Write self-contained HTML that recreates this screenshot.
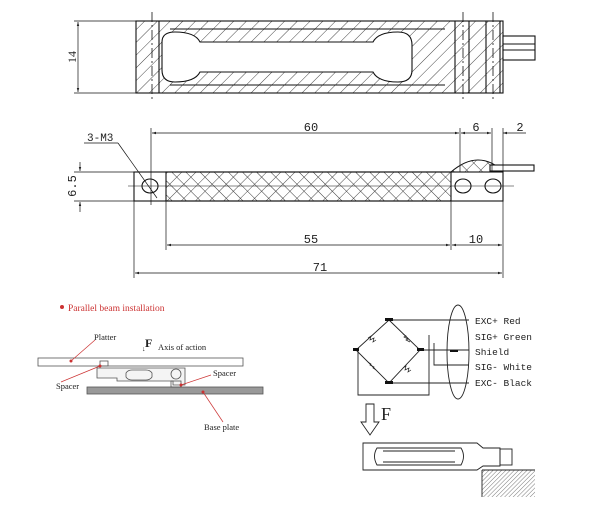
<!DOCTYPE html>
<html><head><meta charset="utf-8"><style>
html,body{margin:0;padding:0;background:#fff}
svg{display:block}
text{font-family:"Liberation Mono",monospace;fill:#222}
.s{font-family:"Liberation Serif",serif}
</style></head><body>
<svg width="600" height="508" viewBox="0 0 600 508" xmlns="http://www.w3.org/2000/svg">
<defs>
<pattern id="h" width="9" height="9" patternUnits="userSpaceOnUse" patternTransform="rotate(45)"><line x1="0" y1="0" x2="0" y2="9" stroke="#333" stroke-width="0.9"/></pattern>
<pattern id="x" width="10" height="10" patternUnits="userSpaceOnUse" patternTransform="rotate(45)"><path d="M0 0V10M0 0H10" stroke="#333" stroke-width="0.9"/></pattern>
<pattern id="g" width="3" height="3" patternUnits="userSpaceOnUse" patternTransform="rotate(45)"><line x1="0" y1="0" x2="0" y2="3" stroke="#555" stroke-width="0.8"/></pattern>
<marker id="a" viewBox="0 0 10 10" refX="10" refY="5" markerWidth="6" markerHeight="6" orient="auto-start-reverse"><path d="M0 2L10 5L0 8z" fill="#222"/></marker>
</defs>
<g stroke="#111" fill="none" stroke-width="1.1">
<!-- top view -->
<rect x="136" y="21" width="367" height="72" fill="url(#h)"/>
<path d="M162 42Q162 32 175 32Q195 32 200 42H373Q378 32 398 32Q412 32 412 45V70Q412 82 398 82Q378 82 373 72H200Q195 82 175 82Q162 82 162 70Z" fill="#fff"/>
<line x1="159" y1="21" x2="159" y2="93"/><line x1="455" y1="21" x2="455" y2="93"/><line x1="469" y1="21" x2="469" y2="93"/><line x1="486" y1="21" x2="486" y2="93"/><line x1="500" y1="21" x2="500" y2="93"/>
<line x1="170" y1="29" x2="445" y2="29"/><line x1="170" y1="85" x2="445" y2="85"/>
<g stroke-dasharray="10 3 2 3" stroke-width="0.8"><line x1="152" y1="12" x2="152" y2="101"/><line x1="463" y1="12" x2="463" y2="101"/><line x1="493" y1="12" x2="493" y2="101"/></g>
<rect x="503" y="36" width="32" height="24" fill="#fff"/><line x1="503" y1="44" x2="535" y2="44"/><line x1="503" y1="50" x2="535" y2="50"/>
<line x1="74" y1="21" x2="136" y2="21" stroke-width="0.7"/><line x1="74" y1="93" x2="136" y2="93" stroke-width="0.7"/>
<line x1="78" y1="22" x2="78" y2="92" marker-start="url(#a)" marker-end="url(#a)" stroke-width="0.7"/>
<!-- side view -->
<path d="M451 172Q465 160 478 160Q492 160 503 172" fill="url(#x)"/>
<rect x="490" y="165" width="44" height="6" fill="#fff"/>
<rect x="134" y="172" width="369" height="29" fill="#fff"/>
<rect x="166" y="172" width="285" height="29" fill="url(#x)"/>
<ellipse cx="150" cy="186" rx="8" ry="7"/><ellipse cx="463" cy="186" rx="8" ry="7"/><ellipse cx="493" cy="186" rx="8" ry="7"/>
<line x1="128" y1="186" x2="514" y2="186" stroke-width="0.6"/>
<g stroke-width="0.7">
<line x1="151" y1="128" x2="151" y2="205"/><line x1="460" y1="128" x2="460" y2="172"/><line x1="492" y1="128" x2="492" y2="172"/><line x1="503" y1="128" x2="503" y2="172"/>
<line x1="152" y1="133" x2="459" y2="133" marker-start="url(#a)" marker-end="url(#a)"/>
<line x1="461" y1="133" x2="491" y2="133" marker-start="url(#a)" marker-end="url(#a)"/>
<line x1="503" y1="133" x2="526" y2="133" marker-start="url(#a)"/>
<line x1="84" y1="143" x2="118" y2="143"/><line x1="118" y1="143" x2="157" y2="198"/>
<line x1="74" y1="172" x2="134" y2="172"/><line x1="74" y1="201" x2="134" y2="201"/>
<line x1="80" y1="162" x2="80" y2="171" marker-end="url(#a)"/><line x1="80" y1="212" x2="80" y2="202" marker-end="url(#a)"/>
<line x1="166" y1="201" x2="166" y2="250"/><line x1="451" y1="201" x2="451" y2="250"/><line x1="503" y1="201" x2="503" y2="278"/><line x1="134" y1="201" x2="134" y2="278"/>
<line x1="167" y1="245" x2="450" y2="245" marker-start="url(#a)" marker-end="url(#a)"/>
<line x1="452" y1="245" x2="502" y2="245" marker-start="url(#a)" marker-end="url(#a)"/>
<line x1="135" y1="273" x2="502" y2="273" marker-start="url(#a)" marker-end="url(#a)"/>
</g>
</g>
<text x="76" y="57" font-size="12" transform="rotate(-90 76 57)" text-anchor="middle" class="s">14</text>
<text x="311" y="131" font-size="12" text-anchor="middle">60</text>
<text x="476" y="131" font-size="12" text-anchor="middle">6</text>
<text x="520" y="131" font-size="12" text-anchor="middle">2</text>
<text x="87" y="141" font-size="11">3-M3</text>
<text x="76" y="186" font-size="12" transform="rotate(-90 76 186)" text-anchor="middle">6.5</text>
<text x="311" y="243" font-size="12" text-anchor="middle">55</text>
<text x="476" y="243" font-size="12" text-anchor="middle">10</text>
<text x="320" y="271" font-size="12" text-anchor="middle">71</text>
<!-- installation -->
<circle cx="62" cy="307" r="2" fill="#c33"/>
<text x="68" y="311" font-size="9.5" class="s" style="fill:#c33">Parallel beam installation</text>
<g stroke="#555" fill="none" stroke-width="0.8">
<rect x="38" y="358" width="205" height="8" fill="#fff"/>
<rect x="87" y="387" width="176" height="7" fill="#999"/>
<path d="M97 368H185V385H173V381H117V378H97Z" fill="#f4f4f4"/>
<rect x="100" y="361" width="8" height="5"/><rect x="171" y="381" width="10" height="6"/>
<path d="M126 373Q128 370 132 370H146Q150 370 152 373V377Q150 380 146 380H132Q128 380 126 377Z"/>
<circle cx="176" cy="374" r="5"/>
</g>
<g stroke="#c33" stroke-width="0.7"><line x1="71" y1="361" x2="95" y2="340"/><line x1="61" y1="382" x2="100" y2="366"/><line x1="181" y1="385" x2="211" y2="375"/><line x1="203" y1="392" x2="223" y2="422"/></g>
<g fill="#c33"><circle cx="71" cy="361" r="1.5"/><circle cx="100" cy="366" r="1.5"/><circle cx="181" cy="385" r="1.5"/><circle cx="203" cy="392" r="1.5"/></g>
<text x="94" y="340" font-size="8.5" class="s">Platter</text>
<text x="145" y="347" font-size="12" class="s" font-weight="bold">F</text>
<text x="158" y="350" font-size="8.5" class="s">Axis of action</text>
<text x="142" y="351" font-size="7" class="s">↓</text>
<text x="56" y="389" font-size="8.5" class="s">Spacer</text>
<text x="213" y="376" font-size="8.5" class="s">Spacer</text>
<text x="204" y="430" font-size="8.5" class="s">Base plate</text>
<!-- wiring -->
<g stroke="#222" fill="none" stroke-width="0.9">
<path d="M389 320L420 350L389 383L356 350Z"/>
<path d="M389 320H469M420 350H469M434 343V365H469M429 335V395H358V350M389 383H469"/>
<ellipse cx="458" cy="352" rx="11" ry="47"/>
<g stroke-width="0.7"><path d="M368 338l3-2l-1 4l4-2l-1 4l3-2"/><path d="M403 334l3 2l-2 1l4 2l-2 1l4 2"/><path d="M368 362l3 2l-1 1l4 2l-1 1l3 2"/><path d="M403 368l3-2l-1 4l4-2l-1 4l3-2"/></g>
<path d="M363 443H477L483 448H500V466H483L477 470H363Z"/>
<path d="M377 448Q372 456 377 465H461Q466 456 461 448Z"/>
<line x1="383" y1="451" x2="455" y2="451"/><line x1="383" y1="462" x2="455" y2="462"/>
<rect x="500" y="449" width="12" height="16"/>
<rect x="482" y="470" width="53" height="27" fill="url(#g)" stroke="none"/>
<line x1="482" y1="470" x2="535" y2="470"/><line x1="482" y1="470" x2="482" y2="497"/>
<path d="M366 404H374V422H379L370 435L361 422H366Z" fill="#fff"/>
</g>
<g fill="#111"><rect x="385" y="318" width="8" height="3"/><rect x="417" y="348" width="7" height="3"/><rect x="385" y="381" width="8" height="3"/><rect x="353" y="348" width="6" height="3"/><rect x="450" y="350" width="8" height="2"/></g>
<text x="475" y="324" font-size="9.5">EXC+ Red</text>
<text x="475" y="340" font-size="9.5">SIG+ Green</text>
<text x="475" y="355" font-size="9.5">Shield</text>
<text x="475" y="370" font-size="9.5">SIG- White</text>
<text x="475" y="386" font-size="9.5">EXC- Black</text>
<text x="381" y="420" font-size="18" class="s">F</text>
</svg>
</body></html>
